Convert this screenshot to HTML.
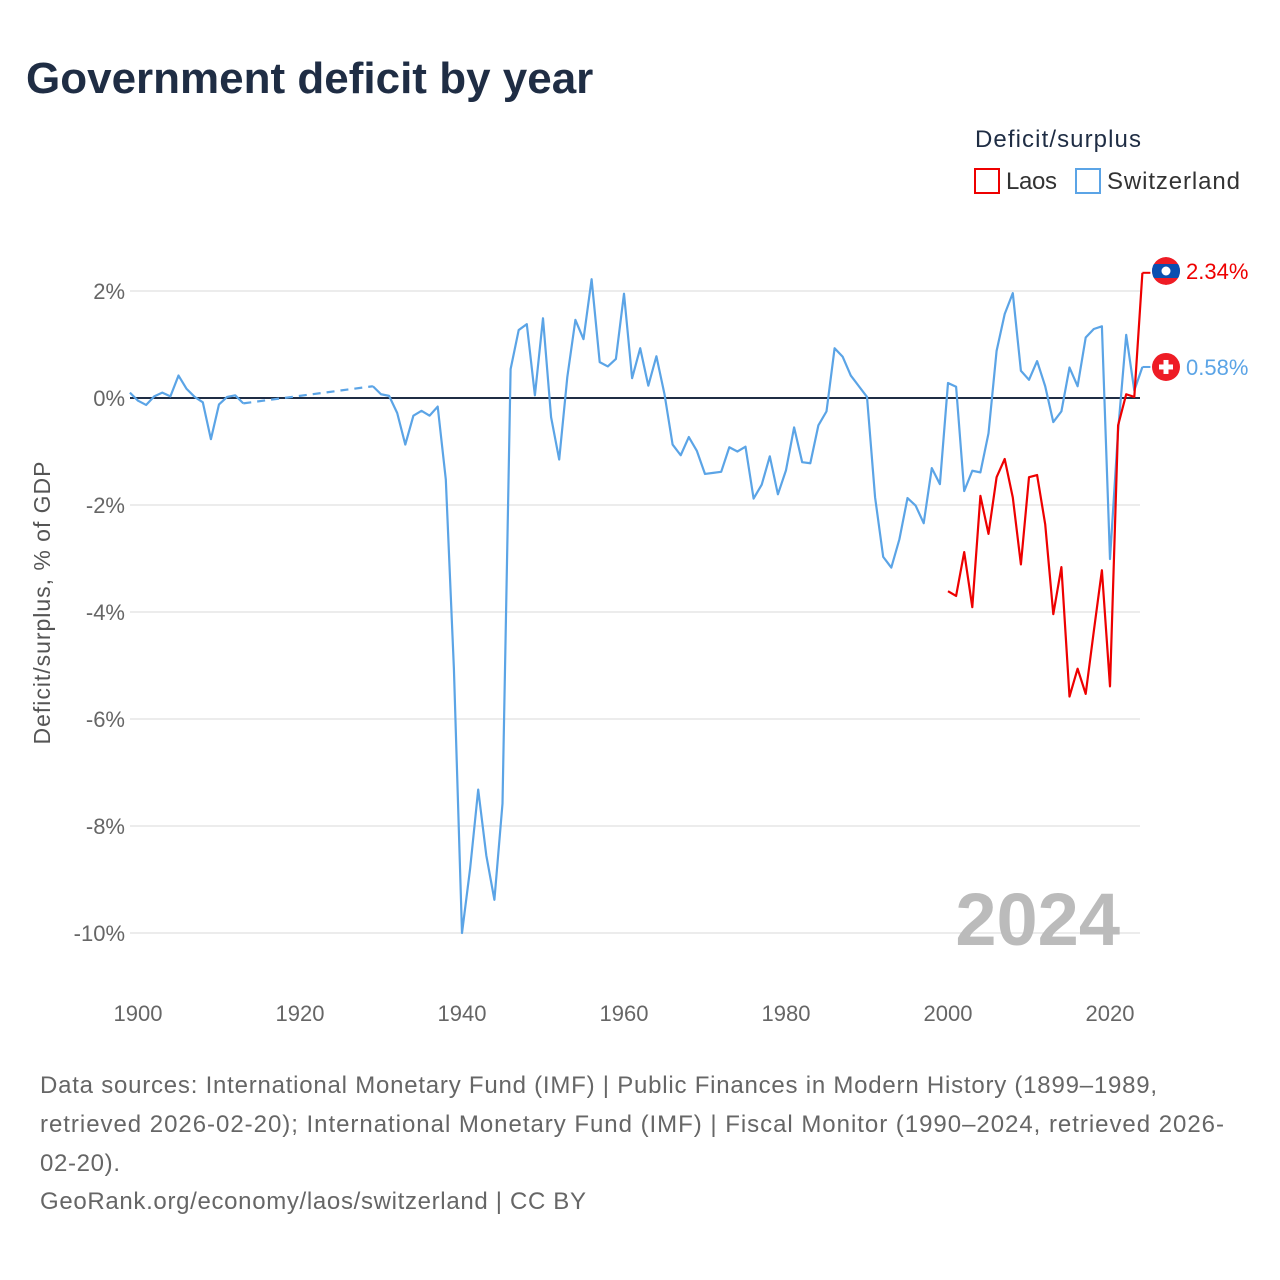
<!DOCTYPE html>
<html><head><meta charset="utf-8"><style>
body{margin:0;background:#fff;font-family:"Liberation Sans",sans-serif;}
#wrap{position:relative;width:1280px;height:1280px;overflow:hidden;}
</style></head><body>
<div id="wrap">
<svg id="chart" width="1280" height="1280" style="position:absolute;left:0;top:0;font-family:'Liberation Sans',sans-serif;">
<defs><clipPath id="laosClip"><circle cx="1166" cy="271" r="14"/></clipPath></defs>
<text x="26" y="93" font-size="44" font-weight="bold" fill="#1f2d44">Government deficit by year</text>
<text x="975" y="147" font-size="24" fill="#1f2d44" textLength="166">Deficit/surplus</text>
<g><rect x="975" y="169" width="24" height="24" fill="none" stroke="#ee0000" stroke-width="2"/><text x="1006" y="189" font-size="24" fill="#333" textLength="51">Laos</text></g>
<g><rect x="1076" y="169" width="24" height="24" fill="none" stroke="#5ba4e6" stroke-width="2"/><text x="1107" y="189" font-size="24" fill="#333" textLength="133">Switzerland</text></g>
<g id="grid"></g>
<g id="series"></g>
<text x="1120" y="945" font-size="74" font-weight="bold" fill="#bbbbbb" text-anchor="end">2024</text>
<text transform="translate(50,603) rotate(-90)" font-size="23" fill="#555" text-anchor="middle" textLength="283">Deficit/surplus, % of GDP</text>
<g font-size="24" fill="#666">
<text x="40" y="1093" textLength="1117">Data sources: International Monetary Fund (IMF) | Public Finances in Modern History (1899–1989,</text>
<text x="40" y="1132" textLength="1184">retrieved 2026-02-20); International Monetary Fund (IMF) | Fiscal Monitor (1990–2024, retrieved 2026-</text>
<text x="40" y="1171" textLength="80">02-20).</text>
<text x="40" y="1209" textLength="546">GeoRank.org/economy/laos/switzerland | CC BY</text>
</g>
</svg>
</div>
<script>
const yTicks=[2,0,-2,-4,-6,-8,-10];
const xTicks=[1900,1920,1940,1960,1980,2000,2020];
const swissYears=[1899,1900,1901,1902,1903,1904,1905,1906,1907,1908,1909,1910,1911,1912,1913,1929,1930,1931,1932,1933,1934,1935,1936,1937,1938,1939,1940,1941,1942,1943,1944,1945,1946,1947,1948,1949,1950,1951,1952,1953,1954,1955,1956,1957,1958,1959,1960,1961,1962,1963,1964,1965,1966,1967,1968,1969,1970,1971,1972,1973,1974,1975,1976,1977,1978,1979,1980,1981,1982,1983,1984,1985,1986,1987,1988,1989,1990,1991,1992,1993,1994,1995,1996,1997,1998,1999,2000,2001,2002,2003,2004,2005,2006,2007,2008,2009,2010,2011,2012,2013,2014,2015,2016,2017,2018,2019,2020,2021,2022,2023,2024];
const swissValues=[0.1,-0.05,-0.13,0.03,0.1,0.03,0.42,0.17,0.02,-0.08,-0.77,-0.12,0.02,0.05,-0.1,0.22,0.07,0.04,-0.28,-0.87,-0.33,-0.24,-0.33,-0.16,-1.52,-5.06,-10.0,-8.8,-7.32,-8.55,-9.38,-7.58,0.54,1.27,1.38,0.05,1.49,-0.36,-1.15,0.39,1.46,1.1,2.22,0.67,0.59,0.73,1.95,0.37,0.93,0.23,0.78,0.07,-0.87,-1.07,-0.73,-0.99,-1.42,-1.4,-1.38,-0.92,-1.0,-0.91,-1.88,-1.62,-1.09,-1.8,-1.35,-0.55,-1.2,-1.22,-0.51,-0.25,0.93,0.77,0.42,0.22,0.02,-1.86,-2.97,-3.17,-2.64,-1.87,-2.01,-2.34,-1.31,-1.61,0.28,0.21,-1.74,-1.36,-1.39,-0.66,0.88,1.57,1.96,0.51,0.34,0.69,0.22,-0.45,-0.25,0.57,0.22,1.13,1.29,1.34,-3.01,-0.61,1.18,0.14,0.58];
const laosYears=[2000,2001,2002,2003,2004,2005,2006,2007,2008,2009,2010,2011,2012,2013,2014,2015,2016,2017,2018,2019,2020,2021,2022,2023,2024];
const laosValues=[-3.61,-3.7,-2.88,-3.91,-1.83,-2.54,-1.48,-1.14,-1.86,-3.11,-1.48,-1.44,-2.36,-4.04,-3.16,-5.58,-5.06,-5.53,-4.36,-3.22,-5.39,-0.51,0.07,0.02,2.34];

const xS=y=>138+(y-1900)*8.1;
const yS=v=>398-53.5*v;
const NS='http://www.w3.org/2000/svg';
function mk(tag,attrs,parent){const e=document.createElementNS(NS,tag);for(const k in attrs)e.setAttribute(k,attrs[k]);parent.appendChild(e);return e;}
const grid=document.getElementById('grid');
const ser=document.getElementById('series');
yTicks.forEach(t=>{
  const l=mk('line',{x1:130,x2:1140,y1:yS(t),y2:yS(t),stroke:'#e6e6e6','stroke-width':1.5},grid);
  
  
  const tx=mk('text',{x:125,y:yS(t)+8,'font-size':22,fill:'#666','text-anchor':'end'},grid);
  tx.textContent=t+'%';
  
  
});
xTicks.forEach(t=>{
  const tx=mk('text',{x:xS(t),y:1021,'font-size':22,fill:'#666','text-anchor':'middle'},grid);
  tx.textContent=t;
  
  
});
const zl=mk('line',{x1:130,x2:1140,y1:yS(0),y2:yS(0),stroke:'#1f2d44','stroke-width':2},grid);



function drawSeries(years,vals,color,name){
  let segs=[[]];let dashed=[];
  for(let i=0;i<years.length;i++){
    if(i>0&&years[i]-years[i-1]>1){
      dashed.push([[years[i-1],vals[i-1]],[years[i],vals[i]]]);segs.push([]);
    }
    segs[segs.length-1].push([years[i],vals[i]]);
  }
  segs.forEach(s=>{
    const p=mk('polyline',{points:s.map(d=>xS(d[0])+','+yS(d[1])).join(' '),fill:'none',stroke:color,'stroke-width':2.2,'stroke-linejoin':'round'},ser);
    
    
  });
  dashed.forEach(s=>{
    const p=mk('polyline',{points:s.map(d=>xS(d[0])+','+yS(d[1])).join(' '),fill:'none',stroke:color,'stroke-width':2.2,'stroke-dasharray':'8,6'},ser);
    
    
  });
  const lv=vals[vals.length-1],lx=xS(years[years.length-1]);
  const c=mk('line',{x1:lx,x2:lx+8,y1:yS(lv),y2:yS(lv),stroke:color,'stroke-width':2},ser);
  
  
  return yS(lv);
}
drawSeries(swissYears,swissValues,'#5ba4e6','switzerland');
drawSeries(laosYears,laosValues,'#ee0000','laos');

const ly=271, sy=yS(swissValues[swissValues.length-1]);
let g=mk('g',{'clip-path':'url(#laosClip)'},ser);


mk('circle',{cx:1166,cy:ly,r:14,fill:'#ee1c25'},g);
mk('rect',{x:1150,y:ly-7,width:32,height:14,fill:'#0a4fb0'},g);
mk('circle',{cx:1166,cy:ly,r:4.5,fill:'#fff'},g);
let t=mk('text',{x:1186,y:ly+8,'font-size':22,fill:'#ee0000'},ser);
t.textContent='2.34%';


g=mk('g',{},ser);


mk('circle',{cx:1166,cy:sy,r:14,fill:'#ee1c25'},g);
mk('rect',{x:1159,y:sy-2.5,width:14,height:5,fill:'#fff'},g);
mk('rect',{x:1163.5,y:sy-7,width:5,height:14,fill:'#fff'},g);
t=mk('text',{x:1186,y:sy+8,'font-size':22,fill:'#5ba4e6'},ser);
t.textContent='0.58%';


</script>
</body></html>
